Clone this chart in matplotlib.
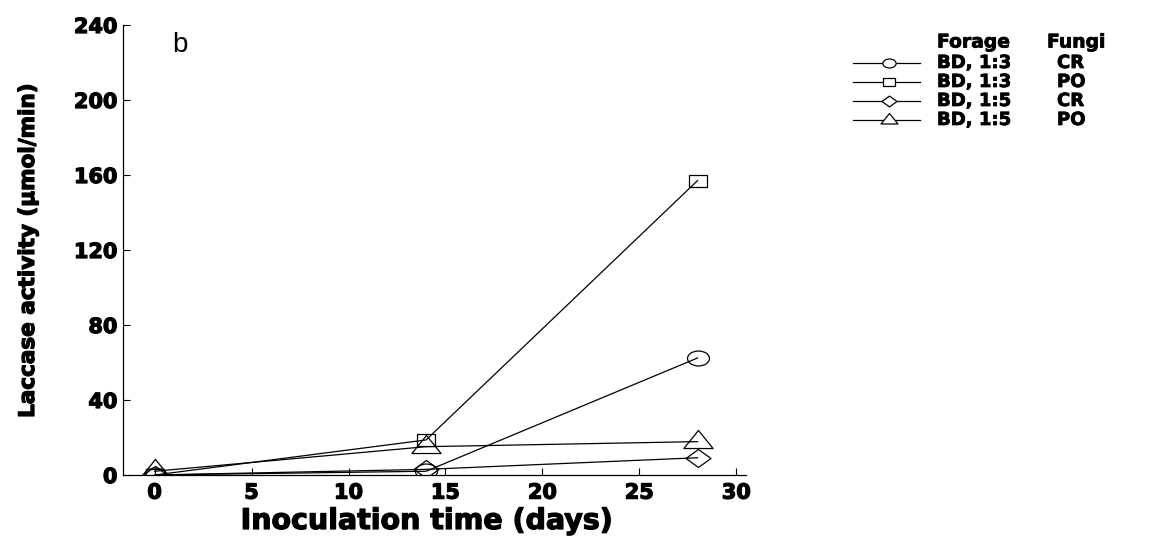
import numpy as np
import matplotlib
matplotlib.use("Agg")
import matplotlib.pyplot as plt
import matplotlib.patheffects as pe
from matplotlib.path import Path
from matplotlib.lines import Line2D

# Sampling days and laccase activity per treatment
days = [0, 14, 28]
forage = ["BD, 1:3", "BD, 1:3", "BD, 1:5", "BD, 1:5"]
fungi = ["CR", "PO", "CR", "PO"]
bd13_cr = [0.0, 2.0, 62.4]
bd13_po = [0.0, 18.7, 157.0]
bd15_cr = [0.0, 3.0, 9.2]
bd15_po = [2.0, 15.1, 17.8]
series = [bd13_cr, bd13_po, bd15_cr, bd15_po]

x_ticks = [0, 5, 10, 15, 20, 25, 30]
y_ticks = [0, 40, 80, 120, 160, 200, 240]

# Extra-heavy look: bold face thickened with a thin outline stroke
HEAVY_FX = [pe.withStroke(linewidth=0.9, foreground="black")]
HEAVY = dict(family="DejaVu Sans", fontweight="bold", path_effects=HEAVY_FX)
LEGEND_FONT = dict(family="DejaVu Sans", fontweight="bold",
                   path_effects=[pe.withStroke(linewidth=0.55, foreground="black")])


def squashed(kind, ratio):
    """Hollow marker path flattened vertically by `ratio`."""
    if kind == "o":
        p = Path.unit_circle()
        v = p.vertices.copy()
        v[:, 1] *= ratio
        return Path(v, p.codes)
    if kind == "s":
        v = np.array([[-1, -ratio], [1, -ratio], [1, ratio], [-1, ratio], [-1, -ratio]])
    elif kind == "D":
        v = np.array([[0, -ratio], [1, 0], [0, ratio], [-1, 0], [0, -ratio]])
    else:  # triangle centred on its centroid
        h = 2 * ratio
        v = np.array([[0, 2 * h / 3], [-1, -h / 3], [1, -h / 3], [0, 2 * h / 3]])
    codes = [Path.MOVETO] + [Path.LINETO] * (len(v) - 2) + [Path.CLOSEPOLY]
    return Path(v, codes)


markers = [squashed("o", 0.68), squashed("s", 0.70), squashed("D", 0.72), squashed("^", 0.62)]
marker_sizes = [15.8, 12.5, 18.0, 21.0]
legend_sizes = [9.5, 8.8, 10.8, 12.2]

W, H = 1150, 541
fig = plt.figure(figsize=(W / 100, H / 100), dpi=100)
ax = fig.add_axes([123 / W, 1 - 475 / H, (746 - 123) / W, (475 - 25) / H])

for vals, mk, ms in zip(series, markers, marker_sizes):
    ax.plot(days, vals, color="black", lw=0.9, marker=mk, ms=ms,
            mfc="none", mec="black", mew=0.9)

ax.set_xlim(-1.63, 30.5)
ax.set_ylim(0, 240)
ax.set_xticks(x_ticks)
ax.set_yticks(y_ticks)
ax.tick_params(direction="in", length=5, width=0.8)
ax.tick_params(axis="x", pad=5.5)
ax.tick_params(axis="y", pad=4)
for lab in ax.get_xticklabels() + ax.get_yticklabels():
    lab.set_fontsize(15)
    lab.set_fontfamily(HEAVY["family"])
    lab.set_fontweight(HEAVY["fontweight"])
    lab.set_path_effects(HEAVY_FX)
for s in ("top", "right"):
    ax.spines[s].set_visible(False)
for s in ("left", "bottom"):
    ax.spines[s].set_linewidth(0.9)

ax.set_xlabel("Inoculation time (days)", fontsize=20.5, **HEAVY)
ax.xaxis.set_label_coords((427 - 123) / 623, (475 - 521) / 450)
ax.xaxis.label.set_va("center")
ax.set_ylabel("Laccase activity (µmol/min)", fontsize=15.5, **HEAVY)
ax.yaxis.set_label_coords((28 - 123) / 623, (475 - 251) / 450)
ax.yaxis.label.set_va("center")


def fx(px):
    return px / W


def fy(py):
    return 1 - py / H


fig.text(fx(180), fy(45), "b", fontsize=20, family="Liberation Sans",
         va="center", ha="center")

# Legend block: header row, then one row per treatment
fig.text(fx(937), fy(42), "Forage", fontsize=13.5, va="center", ha="left", **LEGEND_FONT)
fig.text(fx(1047), fy(42), "Fungi", fontsize=13.5, va="center", ha="left", **LEGEND_FONT)
rows_y = [63, 82, 101, 120]
for y, f, g, mk, ms in zip(rows_y, forage, fungi, markers, legend_sizes):
    fig.add_artist(Line2D([fx(853), fx(920)], [fy(y), fy(y)], transform=fig.transFigure,
                          color="black", lw=0.9))
    fig.add_artist(Line2D([fx(889)], [fy(y)], transform=fig.transFigure, marker=mk,
                          ms=ms, mfc="white", mec="black", mew=0.9, ls="none"))
    fig.text(fx(937), fy(y), f, fontsize=13, va="center", ha="left", **LEGEND_FONT)
    fig.text(fx(1057), fy(y), g, fontsize=13, va="center", ha="left", **LEGEND_FONT)

fig.savefig("out.png", dpi=100)
